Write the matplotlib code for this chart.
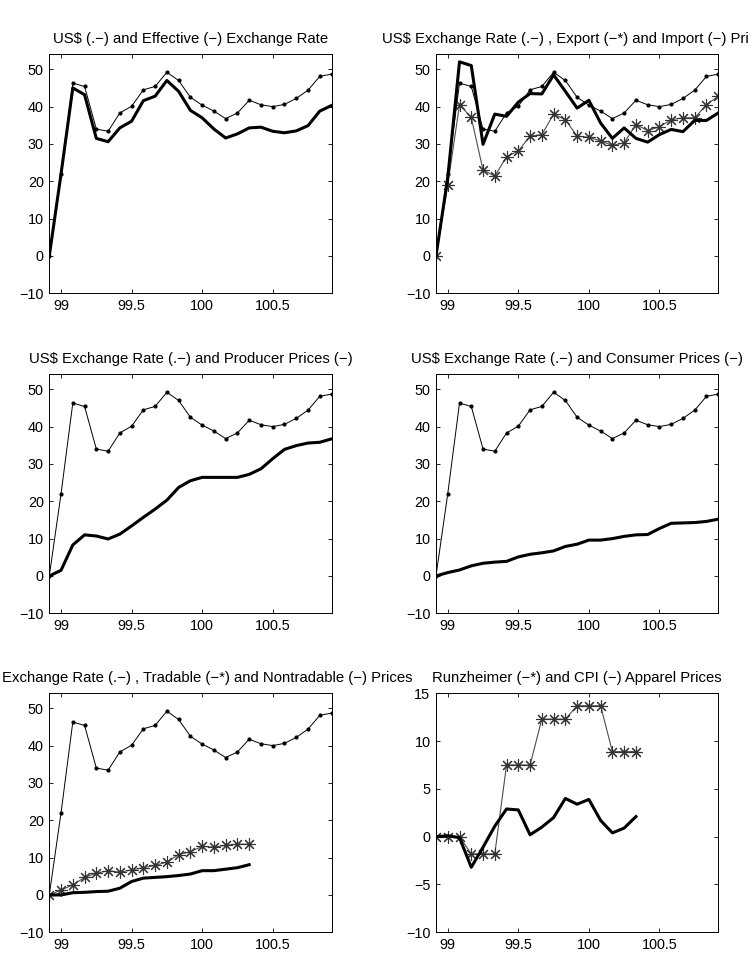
import matplotlib
matplotlib.use("Agg")
import matplotlib.pyplot as plt
import numpy as np

plt.rcParams['font.family'] = ['Liberation Sans', 'DejaVu Sans']
plt.rcParams['font.size'] = 10.4

# months since Jan 1998 (Dec 1998 .. Dec 2000), x axis is year-1900 + month/12
months = list(range(11, 36))
x = 98 + np.array(months) / 12.0

us_rate = [0, 22, 46.3, 45.4, 34.0, 33.4, 38.3, 40.1, 44.5, 45.4, 49.2, 47.0, 42.5,
           40.4, 38.8, 36.8, 38.3, 41.7, 40.5, 40.0, 40.6, 42.2, 44.4, 48.1, 48.7]
effective = [0, 22, 45.0, 43.2, 31.5, 30.6, 34.3, 36.1, 41.6, 42.8, 47.0, 44.1, 39.0,
             37.0, 34.0, 31.6, 32.7, 34.3, 34.5, 33.4, 33.0, 33.5, 34.9, 38.8, 40.3]
export_p = [0, 19.0, 40.5, 37.1, 23.0, 21.4, 26.6, 28.1, 32.1, 32.5, 38.0, 36.5, 32.1,
            31.8, 30.8, 29.6, 30.3, 35.2, 33.6, 34.6, 36.5, 37.0, 37.0, 40.5, 42.8]
import_p = [0, 21, 52.0, 51.0, 29.9, 38.0, 37.4, 41.2, 43.5, 43.4, 48.5, 44.1, 39.6,
            41.7, 35.6, 31.5, 34.3, 31.5, 30.5, 32.5, 33.9, 33.3, 36.3, 36.3, 38.3]
producer = [0, 1.5, 8.3, 11.0, 10.7, 9.9, 11.2, 13.4, 15.7, 17.9, 20.3, 23.7, 25.5,
            26.4, 26.4, 26.4, 26.4, 27.2, 28.7, 31.4, 33.9, 34.9, 35.6, 35.8, 36.7]
consumer = [0, 0.9, 1.6, 2.7, 3.4, 3.7, 3.9, 5.1, 5.8, 6.2, 6.7, 7.9, 8.5,
            9.6, 9.6, 10.0, 10.6, 11.0, 11.1, 12.7, 14.1, 14.2, 14.3, 14.6, 15.2]
tradable = [0, 1.3, 2.7, 4.7, 5.8, 6.5, 6.1, 6.7, 7.3, 7.9, 8.8, 10.8, 11.6,
            13.0, 12.8, 13.3, 13.6, 13.6]
nontradable = [0, 0, 0.6, 0.7, 0.9, 1.0, 1.8, 3.6, 4.5, 4.7, 4.9, 5.2, 5.6,
               6.5, 6.5, 6.9, 7.3, 8.1]
runzheimer = [0, 0, 0, -1.8, -1.8, -1.8, 7.5, 7.5, 7.5, 12.3, 12.3, 12.3,
              13.7, 13.7, 13.7, 8.9, 8.9, 8.9]
cpi_apparel = [0, 0.1, -0.1, -3.2, -1.1, 1.1, 2.9, 2.8, 0.2, 1.0, 2.0, 4.0,
               3.4, 3.9, 1.7, 0.4, 0.9, 2.1]

titles = ["US$ (.\u2212) and Effective (\u2212) Exchange Rate",
          "US$ Exchange Rate (.\u2212) , Export (\u2212*) and Import (\u2212) Prices",
          "US$ Exchange Rate (.\u2212) and Producer Prices (\u2212)",
          "US$ Exchange Rate (.\u2212) and Consumer Prices (\u2212)",
          "US$ Exchange Rate (.\u2212) , Tradable (\u2212*) and Nontradable (\u2212) Prices",
          "Runzheimer (\u2212*) and CPI (\u2212) Apparel Prices"]

fig = plt.figure(figsize=(7.49, 9.69), dpi=100)

lefts = [0.0658, 0.5821]
bottoms = [0.6973, 0.3671, 0.0379]
w, h = 0.3768, 0.2466

axes = []
for r in range(3):
    for c in range(2):
        axes.append(fig.add_axes([lefts[c], bottoms[r], w, h]))

def thin(ax, xs, ys):
    ax.plot(xs, ys, '-', color='k', lw=0.7, marker='.', ms=4)

def thick(ax, xs, ys):
    ax.plot(xs, ys, '-', color='k', lw=2.2)

def stars(ax, xs, ys):
    ax.plot(xs, ys, '-', color='0.3', lw=0.8, marker=(8, 2, 0), ms=9, mew=0.8,
            mec='0.2')

n = len(tradable)

thin(axes[0], x, us_rate)
thick(axes[0], x, effective)

thin(axes[1], x, us_rate)
stars(axes[1], x, export_p)
thick(axes[1], x, import_p)

thin(axes[2], x, us_rate)
thick(axes[2], x, producer)

thin(axes[3], x, us_rate)
thick(axes[3], x, consumer)

thin(axes[4], x, us_rate)
stars(axes[4], x[:n], tradable)
thick(axes[4], x[:n], nontradable)

stars(axes[5], x[:n], runzheimer)
thick(axes[5], x[:n], cpi_apparel)

for i, ax in enumerate(axes):
    ax.set_xlim(x[0], x[-1])
    ax.set_xticks([99, 99.5, 100, 100.5])
    ax.set_xticklabels(['99', '99.5', '100', '100.5'])
    if i < 5:
        ax.set_ylim(-10, 54)
        ax.set_yticks([-10, 0, 10, 20, 30, 40, 50])
    else:
        ax.set_ylim(-10, 15)
        ax.set_yticks([-10, -5, 0, 5, 10, 15])
    ax.tick_params(direction='in', length=3, width=0.6, top=True, right=True, pad=4)
    for s in ax.spines.values():
        s.set_linewidth(0.7)
    ax.set_title(titles[i], fontsize=10.7, pad=8)

fig.savefig('out.png', dpi=100)
